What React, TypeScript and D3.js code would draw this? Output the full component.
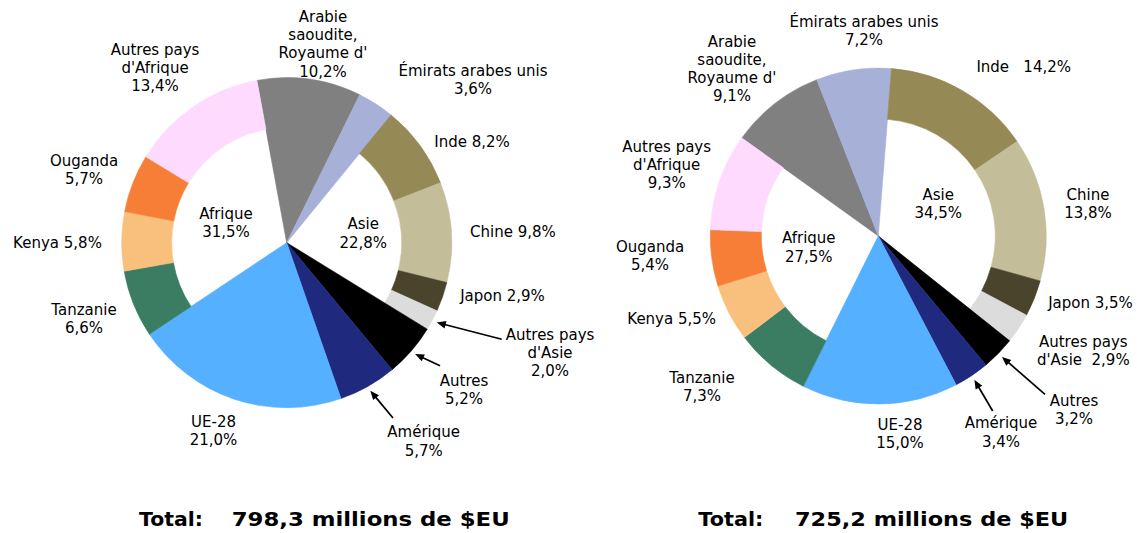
import React from "react";
import * as d3 from "d3";

// categories in the order they are drawn, clockwise
const categories = [
  "Arabie\nsaoudite,\nRoyaume d'",
  "Émirats arabes unis",
  "Inde",
  "Chine",
  "Japon",
  "Autres pays\nd'Asie",
  "Autres",
  "Amérique",
  "UE-28",
  "Tanzanie",
  "Kenya",
  "Ouganda",
  "Autres pays\nd'Afrique",
];
// which categories sit on the outer ring of a region (others are full wedges)
const regionOf = ["", "", "Asie", "Asie", "Asie", "Asie", "", "", "", "Afrique", "Afrique", "Afrique", "Afrique"];

const valuesLeft = [10.2, 3.6, 8.2, 9.8, 2.9, 2.0, 5.2, 5.7, 21.0, 6.6, 5.8, 5.7, 13.4];
const valuesRight = [9.1, 7.2, 14.2, 13.8, 3.5, 2.9, 3.2, 3.4, 15.0, 7.3, 5.5, 5.4, 9.3];

const regions = ["Afrique", "Asie"];
const regionLeft = [31.5, 22.8];
const regionRight = [27.5, 34.5];

const totals = [798.3, 725.2];

const colors = [
  "#808080", "#a7b1d8", "#958a56", "#c4bd99", "#4b442d", "#dcdcdc",
  "#000000", "#1f2a7f", "#55b0ff", "#3a7d63", "#f9bf7c", "#f67e36", "#ffdaff",
];

const fr = d3.formatLocale({ decimal: ",", thousands: " ", grouping: [3], currency: ["", "$"] });
const pct = (v: number) => fr.format(".1f")(v) + "%";
const num = fr.format(".1f");

const FONT = "DejaVu Sans, Verdana, sans-serif";
const LH = 18.2;

// label layout: [x center, first baseline, separator between name and value]
const charts = [
  {
    cx: 286.7, cy: 242.7, R: 165, r: 115, start: -10.4,
    values: valuesLeft, regionValues: regionLeft, total: totals[0],
    labels: [
      [323, 22, "\n"], [473, 76, "\n"], [472, 146.7, " "], [513, 236.7, " "],
      [502.5, 301, " "], [550, 340, "\n"], [464, 386, "\n"], [423.7, 437.3, "\n"],
      [213.5, 426.7, "\n"], [84, 315, "\n"], [57.5, 248.3, " "], [84, 165.7, "\n"],
      [155, 54.5, "\n"],
    ],
    regionPos: [[226, 219], [363.3, 229.3]],
    arrows: [[5, 501.7, 339.3], [6, 440, 365.7], [7, 393, 418]],
    totalPos: [139, 64, 231.7, 278],
  },
  {
    cx: 878.3, cy: 236, R: 168, r: 117, start: -54.3,
    values: valuesRight, regionValues: regionRight, total: totals[1],
    labels: [
      [732, 46.7, "\n"], [864, 26.7, "\n"], [1023.7, 71.7, "   "], [1088, 200, "\n"],
      [1090.5, 308.3, " "], [1083.3, 346.7, "  "], [1074, 406, "\n"], [1001, 428.3, "\n"],
      [900, 430, "\n"], [702, 382.7, "\n"], [671.7, 324, " "], [650, 251.7, "\n"],
      [666.7, 151.7, "\n"],
    ],
    regionPos: [[808.8, 243.3], [938.3, 200]],
    arrows: [[6, 1045, 394.3], [7, 992.7, 411]],
    totalPos: [698.3, 65, 795, 273.3],
  },
];

function MultiLine({ x, y, text }: { x: number; y: number; text: string }) {
  const lines = text.split("\n");
  return (
    <text x={x} y={y} textAnchor="middle" style={{ whiteSpace: "pre" }}>
      {lines.map((l, k) => (
        <tspan key={k} x={x} y={y + k * LH}>{l}</tspan>
      ))}
    </text>
  );
}

function Donut({ c }: { c: any }) {
  const a0 = (c.start * Math.PI) / 180;
  const pie = d3.pie<number>().sort(null).value((d) => d).startAngle(a0).endAngle(a0 + 2 * Math.PI);
  const arcs = pie(c.values);
  const arc = d3.arc<d3.PieArcDatum<number>>().outerRadius(c.R);

  const tipOf = (i: number) => {
    const a = arcs[i];
    const mid = (a.startAngle + a.endAngle) / 2;
    const rr = c.R + 5;
    return [c.cx + rr * Math.sin(mid), c.cy - rr * Math.cos(mid)];
  };

  return (
    <g>
      <g transform={`translate(${c.cx},${c.cy})`}>
        {arcs.map((a, i) => (
          <path
            key={i}
            d={arc.innerRadius(regionOf[i] ? c.r : 0)(a) || ""}
            fill={colors[i]}
            stroke={colors[i]}
            strokeWidth={0.6}
          />
        ))}
      </g>
      <g fontFamily={FONT} fontSize={15} fill="#000">
        {c.labels.map((l: any, i: number) => (
          <MultiLine key={i} x={l[0]} y={l[1]} text={categories[i] + l[2] + pct(c.values[i])} />
        ))}
        {regions.map((g, k) => (
          <MultiLine key={g} x={c.regionPos[k][0]} y={c.regionPos[k][1]} text={g + "\n" + pct(c.regionValues[k])} />
        ))}
      </g>
      {c.arrows.map(([i, x0, y0]: number[]) => {
        const [tx, ty] = tipOf(i);
        const dx = tx - x0, dy = ty - y0;
        const len = Math.hypot(dx, dy);
        const ux = dx / len, uy = dy / len;
        const hl = 9, hw = 3.8;
        const bx = tx - ux * hl, by = ty - uy * hl;
        return (
          <g key={i}>
            <line x1={x0} y1={y0} x2={bx + ux} y2={by + uy} stroke="#000" strokeWidth={1.7} />
            <polygon
              points={`${tx},${ty} ${bx - uy * hw},${by + ux * hw} ${bx + uy * hw},${by - ux * hw}`}
              fill="#000"
            />
          </g>
        );
      })}
      <g fontFamily={FONT} fontSize={20} fontWeight="bold" fill="#000">
        <text x={c.totalPos[0]} y={526} textLength={c.totalPos[1]} lengthAdjust="spacingAndGlyphs">Total:</text>
        <text x={c.totalPos[2]} y={526} textLength={c.totalPos[3]} lengthAdjust="spacingAndGlyphs">
          {num(c.total) + " millions de $EU"}
        </text>
      </g>
    </g>
  );
}

export default function App() {
  return (
    <svg
      width={1142}
      height={533}
      style={{ position: "absolute", left: 0, top: 0, background: "#fff" }}
    >
      {charts.map((c, k) => (
        <Donut key={k} c={c} />
      ))}
    </svg>
  );
}
